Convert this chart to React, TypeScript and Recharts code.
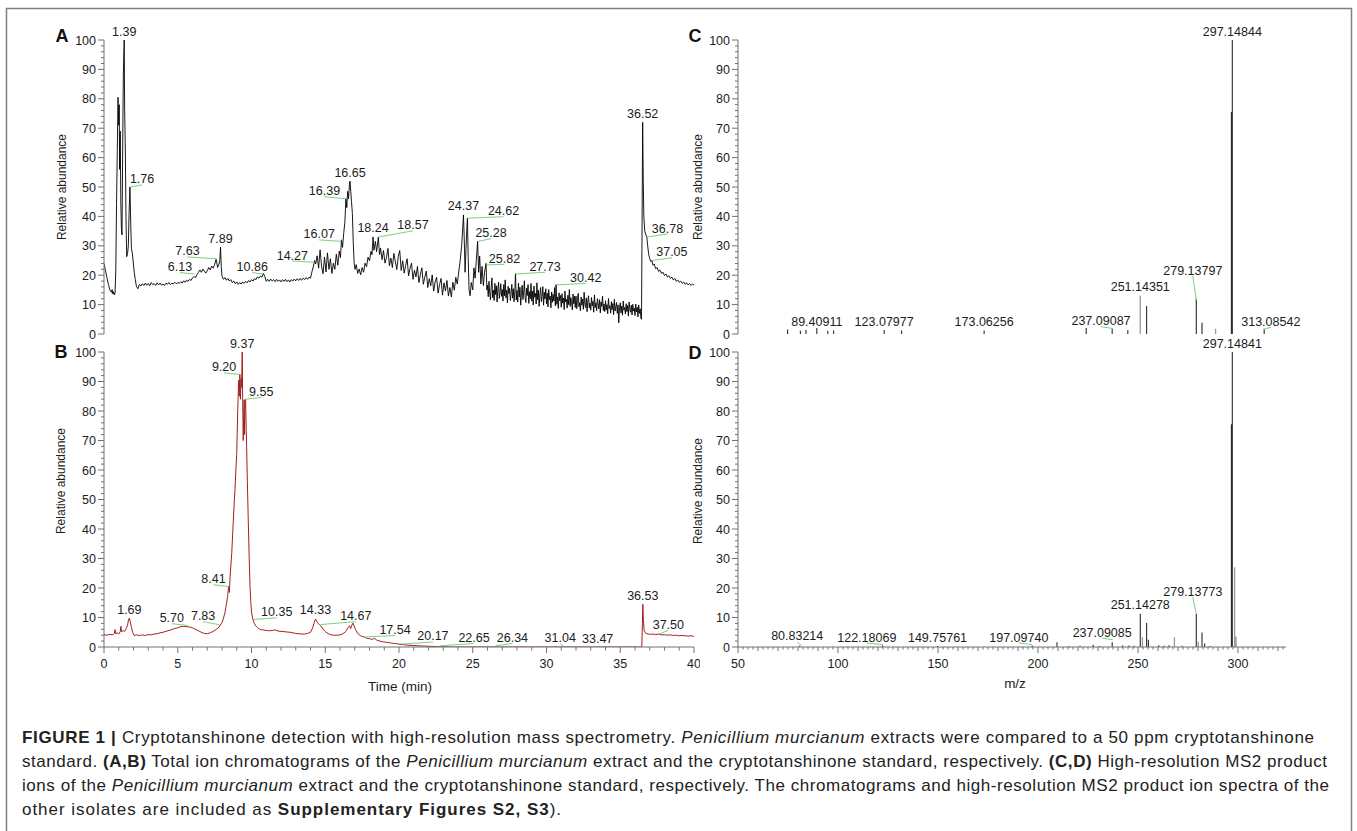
import React from "react";
import { LineChart, Line, XAxis, YAxis, ReferenceLine, ReferenceDot } from "recharts";

const FONT = "'Liberation Sans', Arial, Helvetica, sans-serif";
const INK = "#1c1c1c";
const AXIS_GREY = "#707070";
const LEADER = "#7ad37a";
const TRACE_EXTRACT = "#000000";
const TRACE_STANDARD = "#a3201f";
const STICK = "#2b2b2b";
const STICK_LIGHT = "#979797";

// ---- axis ticks ----
const abundanceTicks = [0, 10, 20, 30, 40, 50, 60, 70, 80, 90, 100];
const timeTicks = [0, 5, 10, 15, 20, 25, 30, 35, 40];
const mzTicks = [50, 100, 150, 200, 250, 300];

// ---- (A) total ion chromatogram, P. murcianum extract: [time (min), relative abundance] ----
const extractTic: [number, number][] = [
  [0, 24], [0.1, 21.5], [0.2, 19.2], [0.3, 16.8], [0.4, 15], [0.5, 14.2], [0.55, 15.1], [0.6, 13.6], [0.65, 14.4], [0.7, 13.3], [0.75, 14],
  [0.8, 22], [0.85, 44], [0.9, 62], [0.95, 80.5], [1.0, 71], [1.03, 78], [1.06, 56], [1.1, 69], [1.14, 45], [1.18, 36], [1.22, 33.7],
  [1.27, 65], [1.31, 88], [1.37, 100], [1.4, 76], [1.45, 61.5], [1.49, 40], [1.54, 26.3], [1.6, 27.5], [1.65, 30], [1.7, 41], [1.76, 50],
  [1.81, 38], [1.86, 29], [1.92, 27.5], [1.98, 24.5], [2.05, 21], [2.12, 18.5], [2.2, 16.2], [2.3, 15.4],
  [2.4, 16.9], [2.5, 16.3], [2.6, 17.1], [2.7, 16.5], [2.8, 17.3], [2.9, 16.6], [3.0, 17.2], [3.1, 16.4], [3.2, 17.5], [3.3, 16.8],
  [3.4, 17.1], [3.5, 16.5], [3.6, 17.4], [3.7, 16.7], [3.8, 17.3], [3.9, 16.6], [4.0, 17.0], [4.1, 16.5], [4.2, 17.3], [4.3, 16.9],
  [4.4, 17.5], [4.5, 16.8], [4.6, 17.3], [4.7, 17.0], [4.8, 17.6], [4.9, 17.1], [5.0, 17.5], [5.1, 17.2], [5.2, 17.8], [5.3, 17.3],
  [5.4, 18.1], [5.5, 17.6], [5.6, 18.3], [5.7, 17.9], [5.8, 18.6], [5.9, 18.2], [6.0, 19.1], [6.1, 19.6], [6.2, 19.1], [6.3, 20.2],
  [6.4, 20.9], [6.5, 21.8], [6.6, 21.0], [6.7, 22.1], [6.8, 21.4], [6.9, 20.7], [7.0, 21.5], [7.1, 22.6], [7.2, 21.8], [7.3, 23.1],
  [7.4, 22.4], [7.5, 23.6], [7.6, 25.4], [7.65, 24.2], [7.7, 22.6], [7.8, 23.8], [7.85, 25], [7.9, 29.5], [7.95, 23], [8.0, 19.6],
  [8.1, 18.6], [8.2, 19.2], [8.3, 18.3], [8.4, 18.9], [8.5, 18.0], [8.6, 18.5], [8.7, 17.5], [8.8, 18.0], [8.9, 17.1], [9.0, 17.7],
  [9.1, 16.9], [9.2, 17.5], [9.3, 17.0], [9.4, 17.7], [9.5, 17.2], [9.6, 17.9], [9.7, 17.4], [9.8, 18.2], [9.9, 17.7], [10.0, 18.5],
  [10.1, 18.0], [10.2, 18.8], [10.3, 18.5], [10.4, 19.4], [10.5, 19.0], [10.6, 19.7], [10.7, 19.3], [10.8, 20.6], [10.9, 19.6], [11.0, 17.9],
  [11.1, 18.6], [11.2, 17.9], [11.3, 18.7], [11.4, 18.0], [11.5, 18.5], [11.6, 17.8], [11.7, 18.6], [11.8, 17.9], [11.9, 18.4], [12.0, 17.7],
  [12.1, 18.5], [12.2, 17.9], [12.3, 18.6], [12.4, 17.8], [12.5, 18.4], [12.6, 17.7], [12.7, 18.5], [12.8, 18.0], [12.9, 18.7], [13.0, 18.1],
  [13.1, 18.8], [13.2, 18.2], [13.3, 18.9], [13.4, 18.3], [13.5, 19.0], [13.6, 18.5], [13.7, 19.2], [13.8, 18.6], [13.9, 19.3], [14.0, 19.0],
  [14.1, 21.2], [14.2, 23.1], [14.28, 25], [14.35, 23.8], [14.45, 26.6], [14.55, 22.4], [14.65, 28.6], [14.75, 23.1], [14.85, 20.5], [14.95, 26.2],
  [15.05, 21.1], [15.15, 27.6], [15.25, 22.0], [15.35, 25.6], [15.45, 20.6], [15.55, 24.1], [15.65, 22.0], [15.75, 27.1], [15.85, 23.4], [15.95, 28.2],
  [16.03, 26], [16.1, 32], [16.17, 29.5], [16.25, 34.2], [16.33, 38], [16.4, 46], [16.46, 43], [16.52, 48.5], [16.58, 46], [16.64, 51],
  [16.68, 52], [16.73, 48.5], [16.78, 45], [16.84, 41], [16.9, 31], [16.96, 24], [17.02, 22], [17.1, 23.6], [17.2, 20.6], [17.3, 22.1],
  [17.4, 20.1], [17.5, 22.6], [17.6, 21.0], [17.7, 24.1], [17.8, 22.9], [17.9, 26.1], [18.0, 24.9], [18.1, 28.1], [18.17, 27], [18.24, 33],
  [18.3, 28.5], [18.4, 31.5], [18.48, 28], [18.6, 33], [18.68, 27], [18.75, 29.2], [18.85, 25.3], [18.95, 28.4], [19.05, 24.1], [19.15, 26.0],
  [19.25, 29.1], [19.35, 23.2], [19.45, 25.8], [19.55, 22.6], [19.65, 27.4], [19.75, 24.7], [19.85, 21.9], [19.95, 26.3], [20.05, 28.4], [20.15, 21.6],
  [20.25, 24.9], [20.35, 20.7], [20.45, 23.3], [20.55, 25.6], [20.65, 19.8], [20.75, 22.4], [20.85, 24.1], [20.95, 18.6], [21.05, 21.7], [21.15, 19.4],
  [21.25, 23.0], [21.35, 17.5], [21.45, 20.2], [21.55, 22.5], [21.65, 16.9], [21.75, 19.3], [21.85, 21.4], [21.95, 15.8], [22.05, 18.8], [22.15, 16.4],
  [22.25, 20.1], [22.35, 14.6], [22.45, 17.7], [22.55, 19.3], [22.65, 13.9], [22.75, 16.8], [22.85, 18.9], [22.95, 13.2], [23.05, 17.4], [23.15, 14.6],
  [23.25, 18.2], [23.35, 12.9], [23.45, 15.8], [23.55, 12.6], [23.65, 17.6], [23.75, 14.9], [23.85, 19.3], [23.95, 17.0], [24.05, 21.1], [24.15, 25.1],
  [24.25, 30.2], [24.32, 36], [24.37, 40.5], [24.42, 33], [24.48, 21], [24.54, 29], [24.6, 36], [24.64, 39.4], [24.69, 26], [24.75, 15],
  [24.82, 13], [24.9, 17.5], [25.0, 15], [25.08, 22.5], [25.16, 19], [25.24, 25], [25.33, 31.5], [25.4, 21], [25.47, 26.5], [25.55, 17],
  [25.63, 23], [25.72, 16.5], [25.8, 21], [25.9, 24], [25.96, 15],
  [26.0, 16.6], [26.05, 12.7], [26.1, 17.9], [26.15, 13.9], [26.2, 11.6], [26.25, 15.7], [26.3, 19.1], [26.35, 12.3], [26.4, 14.9], [26.45, 11.4],
  [26.5, 17.2], [26.55, 13.4], [26.6, 16.4], [26.65, 10.9], [26.7, 15.3], [26.75, 17.6], [26.8, 12.1], [26.85, 14.2], [26.9, 17.1], [26.95, 12.8],
  [27.0, 15.1], [27.05, 11.2], [27.1, 16.8], [27.15, 13.0], [27.2, 18.4], [27.25, 12.3], [27.3, 14.9], [27.35, 10.6], [27.4, 16.2], [27.45, 13.7],
  [27.5, 15.5], [27.55, 11.4], [27.6, 13.8], [27.65, 16.9], [27.7, 12.2], [27.75, 15.4], [27.8, 11.0], [27.85, 14.6], [27.9, 20.5], [27.95, 11.6],
  [28.0, 14.8], [28.05, 10.9], [28.1, 17.3], [28.15, 12.6], [28.2, 15.9], [28.25, 9.8], [28.3, 13.9], [28.35, 16.6], [28.4, 11.7], [28.45, 14.2],
  [28.5, 18.1], [28.55, 12.4], [28.6, 10.7], [28.65, 15.6], [28.7, 13.1], [28.75, 16.8], [28.8, 10.4], [28.85, 14.4], [28.9, 12.0], [28.95, 17.2],
  [29.0, 11.2], [29.05, 14.6], [29.1, 9.9], [29.15, 16.3], [29.2, 12.5], [29.25, 13.8], [29.3, 10.2], [29.35, 17.4], [29.4, 11.6], [29.45, 14.9],
  [29.5, 9.4], [29.55, 13.3], [29.6, 15.8], [29.65, 11.0], [29.7, 12.7], [29.75, 16.1], [29.8, 9.8], [29.85, 14.2], [29.9, 11.9], [29.95, 15.4],
  [30.0, 10.3], [30.05, 13.9], [30.1, 9.2], [30.15, 15.1], [30.2, 11.7], [30.25, 12.9], [30.3, 8.9], [30.35, 14.3], [30.4, 10.8], [30.45, 13.5],
  [30.5, 11.2], [30.55, 15.8], [30.6, 9.6], [30.65, 16.8], [30.7, 10.1], [30.75, 12.6], [30.8, 8.7], [30.85, 14.0], [30.9, 11.3], [30.95, 13.1],
  [31.0, 9.1], [31.05, 13.7], [31.1, 10.5], [31.15, 12.2], [31.2, 8.3], [31.25, 14.6], [31.3, 10.9], [31.35, 11.8], [31.4, 8.8], [31.45, 13.2],
  [31.5, 10.0], [31.55, 15.1], [31.6, 9.4], [31.65, 12.4], [31.7, 11.0], [31.75, 8.2], [31.8, 13.6], [31.85, 10.3], [31.9, 12.8], [31.95, 9.0],
  [32.0, 12.9], [32.05, 8.6], [32.1, 11.4], [32.15, 13.8], [32.2, 9.3], [32.25, 10.7], [32.3, 7.9], [32.35, 12.6], [32.4, 9.8], [32.45, 11.9],
  [32.5, 8.4], [32.55, 14.2], [32.6, 10.1], [32.65, 9.0], [32.7, 12.3], [32.75, 7.6], [32.8, 11.2], [32.85, 13.0], [32.9, 8.9], [32.95, 10.5],
  [33.0, 8.1], [33.05, 12.4], [33.1, 9.6], [33.15, 11.1], [33.2, 7.4], [33.25, 13.3], [33.3, 9.0], [33.35, 10.6], [33.4, 7.9], [33.45, 12.0],
  [33.5, 10.3], [33.55, 8.5], [33.6, 11.7], [33.65, 7.2], [33.7, 10.9], [33.75, 9.4], [33.8, 12.8], [33.85, 8.0], [33.9, 10.2], [33.95, 7.6],
  [34.0, 11.3], [34.05, 8.2], [34.1, 10.0], [34.15, 6.9], [34.2, 12.1], [34.25, 8.7], [34.3, 9.6], [34.35, 7.1], [34.4, 11.0], [34.45, 8.3],
  [34.5, 10.4], [34.55, 6.6], [34.6, 11.8], [34.65, 7.8], [34.7, 9.3], [34.75, 10.7], [34.8, 7.0], [34.85, 9.9], [34.9, 3.8], [34.95, 8.9],
  [35.0, 10.6], [35.05, 7.2], [35.1, 9.5], [35.15, 6.4], [35.2, 11.2], [35.25, 8.1], [35.3, 9.0], [35.35, 6.8], [35.4, 10.3], [35.45, 7.6],
  [35.5, 9.7], [35.55, 6.1], [35.6, 10.9], [35.65, 8.3], [35.7, 7.4], [35.75, 9.8], [35.8, 6.5], [35.85, 10.1], [35.9, 7.8], [35.95, 8.8],
  [36.0, 6.3], [36.05, 10.2], [36.1, 7.5], [36.15, 9.1], [36.2, 5.8], [36.25, 9.9], [36.3, 7.0], [36.35, 8.6], [36.4, 5.4],
  [36.44, 5.0], [36.48, 38], [36.52, 72], [36.56, 52], [36.6, 40], [36.66, 35], [36.72, 34], [36.8, 33], [36.86, 30],
  [36.93, 27], [37.0, 25.6], [37.08, 24.6], [37.15, 25], [37.22, 23.4], [37.3, 23.8], [37.4, 22.2], [37.5, 22.6], [37.6, 21.3], [37.7, 21.7],
  [37.8, 20.6], [37.9, 21.0], [38.0, 19.9], [38.1, 20.4], [38.2, 19.4], [38.3, 19.8], [38.4, 18.9], [38.5, 19.3], [38.6, 18.4], [38.7, 18.9],
  [38.8, 17.9], [38.9, 18.4], [39.0, 17.6], [39.1, 18.0], [39.2, 17.2], [39.3, 17.7], [39.4, 16.9], [39.5, 17.4], [39.6, 16.7], [39.7, 17.2],
  [39.8, 16.5], [39.9, 17.0], [40.0, 16.6],
];

// ---- (B) total ion chromatogram, cryptotanshinone standard ----
const standardTic: [number, number][] = [
  [0, 4.2], [0.2, 4.0], [0.4, 4.3], [0.6, 4.1], [0.7, 4.6], [0.75, 5.9], [0.8, 4.5], [0.9, 4.8], [1.0, 4.4], [1.1, 5.2], [1.15, 7],
  [1.2, 5.1], [1.3, 5.6], [1.4, 5.3], [1.5, 6.2], [1.6, 7.4], [1.66, 9.2], [1.72, 9.8], [1.78, 8.6], [1.86, 6.6], [1.95, 4.9], [2.05, 3.9],
  [2.2, 4.1], [2.4, 3.9], [2.6, 4.1], [2.8, 3.9], [3.0, 4.2], [3.2, 4.1], [3.4, 4.4], [3.6, 4.5], [3.8, 4.8], [4.0, 5.0], [4.2, 5.3],
  [4.4, 5.6], [4.6, 5.9], [4.8, 6.3], [5.0, 6.5], [5.2, 6.9], [5.4, 7.0], [5.6, 6.9], [5.8, 6.8], [6.0, 6.5], [6.2, 6.0], [6.4, 5.5],
  [6.6, 5.0], [6.8, 4.6], [7.0, 4.5], [7.2, 4.8], [7.4, 5.3], [7.6, 5.9], [7.8, 6.8], [8.0, 8.3], [8.1, 9.8], [8.2, 11.6], [8.3, 14.5],
  [8.38, 17.1], [8.45, 20.5], [8.5, 18.5], [8.55, 24], [8.6, 27.5], [8.66, 31.8], [8.72, 38], [8.77, 43], [8.83, 49], [8.88, 53.2],
  [8.94, 60], [9.0, 65.6], [9.06, 79], [9.13, 90.4], [9.17, 85], [9.21, 92.4], [9.25, 84], [9.29, 91], [9.33, 88], [9.37, 100],
  [9.41, 80], [9.44, 70], [9.47, 78], [9.5, 83.7], [9.53, 72], [9.56, 84], [9.6, 83.7], [9.64, 74], [9.67, 67.9], [9.72, 56],
  [9.78, 43], [9.84, 31], [9.9, 20.5], [9.95, 15.5], [10.01, 11.5], [10.1, 9.3], [10.2, 7.9], [10.3, 7.1], [10.4, 6.6], [10.5, 6.2],
  [10.6, 5.9], [10.8, 5.8], [11.0, 5.6], [11.2, 5.5], [11.4, 5.6], [11.6, 5.8], [11.8, 5.4], [12.0, 5.3], [12.2, 5.2], [12.4, 5.1],
  [12.6, 5.0], [12.8, 4.8], [13.0, 4.6], [13.2, 4.5], [13.4, 4.4], [13.6, 4.4], [13.8, 4.6], [14.0, 5.0], [14.15, 6.5], [14.25, 8.3],
  [14.34, 9.5], [14.42, 8.7], [14.5, 8.1], [14.6, 7.6], [14.68, 7.3], [14.8, 6.4], [14.9, 5.7], [15.0, 5.2], [15.2, 4.5], [15.4, 4.1],
  [15.6, 4.0], [15.8, 4.0], [16.0, 4.1], [16.2, 4.5], [16.4, 5.3], [16.55, 6.6], [16.65, 7.2], [16.72, 6.2], [16.8, 7.4], [16.88, 8.1],
  [16.95, 7.2], [17.05, 5.9], [17.2, 4.6], [17.4, 3.8], [17.6, 3.4], [17.8, 3.0], [18.0, 2.8], [18.2, 2.6], [18.35, 2.9], [18.5, 2.3],
  [18.7, 2.0], [18.9, 1.8], [19.1, 1.6], [19.3, 1.5], [19.5, 1.3], [19.7, 1.2], [20.0, 1.0], [20.3, 0.8], [20.6, 0.6], [21.0, 0.5],
  [21.5, 0.35], [22.0, 0.25], [22.5, 0.12], [23.0, 0.05], [23.5, 0], [36.46, 0], [36.5, 8], [36.53, 14.5], [36.57, 9], [36.62, 5.6],
  [36.7, 4.8], [36.8, 4.5], [37.0, 4.3], [37.2, 4.4], [37.4, 4.2], [37.6, 4.4], [37.8, 4.1], [38.0, 4.2], [38.2, 4.0], [38.4, 4.1],
  [38.6, 3.9], [38.8, 4.0], [39.0, 3.8], [39.2, 3.9], [39.4, 3.8], [39.6, 3.7], [39.8, 3.8], [40.0, 3.6],
];

// ---- (C) MS2 product ions, extract: [m/z, relative abundance] ----
const extractMs2: [number, number][] = [
  [74.8, 1.5], [81.2, 1.1], [84, 1.4], [89.41, 2], [94.9, 1.1], [97.8, 1.2], [123.08, 1.4], [131.8, 1.2], [173.06, 1.2],
  [224.1, 2], [237.09, 1.9], [244.9, 1.3], [254.3, 9.5], [279.14, 12], [282, 3.8], [296.7, 75.5], [297.15, 100], [313.09, 1.8],
];
const extractMs2Faint: [number, number][] = [[251.14, 13], [288.8, 1.8]];

// ---- (D) MS2 product ions, standard ----
const standardMs2: [number, number][] = [
  [80.83, 0.4], [122.18, 0.5], [149.76, 0.3], [197.1, 0.5], [209.5, 1.6], [215.5, 0.3], [221, 0.4], [227.6, 0.8], [231, 0.3],
  [237.09, 1.6], [242.3, 0.5], [245.5, 0.5], [248, 0.4], [251.14, 11.3], [254.3, 8.1], [255.2, 2.5], [260.4, 0.6], [263, 0.4],
  [265.5, 0.6], [272, 0.4], [279.14, 11.2], [282, 4.9], [283.3, 1.2], [286, 0.3], [296.7, 75.5], [297.15, 100],
];
const standardMs2Faint: [number, number][] = [[252.2, 3.3], [268.2, 3.3], [280.1, 1.8], [298.3, 27], [299, 3.5]];

// ---- peak annotations: [label, peak x, peak y, label x, label y] ----
type Note = [string, number, number, number, number];
const extractTicNotes: Note[] = [
  ["1.39", 1.37, 100, 1.37, 100], ["1.76", 1.76, 50, 2.58, 50.7], ["6.13", 6.12, 20.4, 5.15, 20.9],
  ["7.63", 7.63, 25.6, 5.66, 26.2], ["7.89", 7.9, 29.5, 7.9, 29.5], ["10.86", 10.8, 20.4, 10.05, 20.9],
  ["14.27", 14.28, 24.4, 12.77, 24.8], ["16.07", 16.1, 31.5, 14.59, 32], ["16.39", 16.4, 46, 14.95, 46.7],
  ["16.65", 16.68, 52, 16.68, 52], ["18.24", 18.24, 33, 18.24, 33], ["18.57", 18.6, 33, 20.95, 35.1],
  ["24.37", 24.37, 40.5, 24.37, 40.5], ["24.62", 24.66, 39.4, 27.09, 39.9], ["25.28", 25.34, 31.5, 26.24, 32.4],
  ["25.82", 25.92, 23.5, 27.15, 23.7], ["27.73", 27.9, 20.4, 29.9, 21], ["30.42", 30.65, 16.7, 32.66, 17.2],
  ["36.52", 36.52, 72, 36.52, 72], ["36.78", 36.8, 33, 38.2, 34], ["37.05", 37.15, 25, 38.5, 25.9],
];
const standardTicNotes: Note[] = [
  ["1.69", 1.72, 9.8, 1.72, 9.8], ["5.70", 5.66, 7.3, 4.6, 7.9], ["7.83", 7.78, 7.6, 6.72, 8.6],
  ["8.41", 8.45, 20.5, 7.42, 21.1], ["9.20", 9.2, 92.4, 8.14, 92.9], ["9.37", 9.37, 100, 9.37, 100],
  ["9.55", 9.59, 84, 10.66, 84.6], ["10.35", 10.1, 9.3, 11.71, 9.9], ["14.33", 14.34, 9.5, 14.34, 9.5],
  ["14.67", 14.68, 7.6, 17.07, 8.6], ["17.54", 17.62, 3.4, 19.73, 3.9], ["20.17", 20.19, 1, 22.3, 1.7],
  ["22.65", 22.76, 0.4, 25.09, 1.2], ["26.34", 26.54, 0.4, 27.69, 1.2], ["31.04", 31.15, 0.3, 30.93, 1.1],
  ["33.47", 33.47, 0, 33.47, 0], ["36.53", 36.53, 14.5, 36.53, 14.5], ["37.50", 37.68, 4.5, 38.26, 5.6],
];
const extractMs2Notes: Note[] = [
  ["297.14844", 297.15, 100, 297.15, 100], ["279.13797", 279.14, 11.5, 277.4, 19.7], ["251.14351", 251.14, 13, 251.14, 13],
  ["237.09087", 237.09, 1.9, 231.5, 2.5], ["313.08542", 313.09, 1.6, 316.4, 2.3], ["89.40911", 89.41, 1.2, 89.41, 1.2],
  ["123.07977", 123.08, 1.2, 123.08, 1.2], ["173.06256", 173.06, 1.2, 173.06, 1.2],
];
const standardMs2Notes: Note[] = [
  ["297.14841", 297.15, 100, 297.15, 100], ["279.13773", 279.14, 11.2, 277.4, 16.9], ["251.14278", 251.14, 11.3, 251.14, 11.3],
  ["237.09085", 237.3, 2.5, 232.1, 3], ["197.09740", 196.9, 0.8, 190.4, 1.35], ["149.75761", 149.76, 0.3, 149.76, 0.3],
  ["122.18069", 122.7, 0.8, 114.4, 1.35], ["80.83214", 81.7, 0.55, 79.6, 1.7],
];

const captionLines: { parts: [string, string][]; width: number }[] = [
  {
    width: 1292,
    parts: [
      ["b", "FIGURE 1 | "],
      ["n", "Cryptotanshinone detection with high-resolution mass spectrometry. "],
      ["i", "Penicillium murcianum"],
      ["n", " extracts were compared to a 50 ppm cryptotanshinone"],
    ],
  },
  {
    width: 1305,
    parts: [
      ["n", "standard. "],
      ["b", "(A,B)"],
      ["n", " Total ion chromatograms of the "],
      ["i", "Penicillium murcianum"],
      ["n", " extract and the cryptotanshinone standard, respectively. "],
      ["b", "(C,D)"],
      ["n", " High-resolution MS2 product"],
    ],
  },
  {
    width: 1307,
    parts: [
      ["n", "ions of the "],
      ["i", "Penicillium murcianum"],
      ["n", " extract and the cryptotanshinone standard, respectively. The chromatograms and high-resolution MS2 product ion spectra of the"],
    ],
  },
  {
    width: 539,
    parts: [
      ["n", "other isolates are included as "],
      ["b", "Supplementary Figures S2, S3"],
      ["n", ")."],
    ],
  },
];

// ---- helpers ----
const abundanceMinor = abundanceTicks.flatMap((v) => (v < 100 ? [v, v + 2, v + 4, v + 6, v + 8] : [v]));
const timeMinor = timeTicks.flatMap((v) => (v < 40 ? [v, v + 1, v + 2, v + 3, v + 4] : [v]));
const mzMinor = mzTicks.flatMap((v) => Array.from({ length: 20 }, (_, k) => v + k * 2.5)).filter((v) => v <= 322.5);

const traceRows = (trace: [number, number][]) => trace.map(([t, v]) => ({ t, v }));
const stickRows = (peaks: [number, number][]) =>
  peaks.flatMap(([m, v]) => [{ m, v: 0 }, { m, v }, { m, v: null as number | null }]);

function AbundanceTick({ x, y, payload }: any) {
  const v = payload.value;
  const major = v % 10 === 0;
  return (
    <g>
      <line x1={x} x2={x - (major ? 6 : 3)} y1={y} y2={y} stroke={AXIS_GREY} strokeWidth={1} />
      {major && (
        <text x={x - 8} y={y} dy="0.36em" textAnchor="end" fontSize={12.5} fontFamily={FONT} fill={INK}>
          {v}
        </text>
      )}
    </g>
  );
}

function TimeTick({ x, y, payload }: any) {
  const v = payload.value;
  const major = v % 5 === 0;
  return (
    <g>
      <line x1={x} x2={x} y1={y} y2={y + (major ? 6 : 3.5)} stroke={AXIS_GREY} strokeWidth={1} />
      {major && (
        <text x={x} y={y + 21} textAnchor="middle" fontSize={12.5} fontFamily={FONT} fill={INK}>
          {v}
        </text>
      )}
    </g>
  );
}

function MzTick({ x, y, payload }: any) {
  const v = payload.value;
  const major = v % 50 === 0;
  const mid = v % 10 === 0;
  return (
    <g>
      <line x1={x} x2={x} y1={y} y2={y + (major ? 6 : mid ? 4 : 2.5)} stroke={AXIS_GREY} strokeWidth={1} />
      {major && (
        <text x={x} y={y + 21} textAnchor="middle" fontSize={12.5} fontFamily={FONT} fill={INK}>
          {v}
        </text>
      )}
    </g>
  );
}

function renderNotes(notes: Note[], prefix: string) {
  return notes.flatMap(([label, px, py, tx, ty], i) => {
    const leader = px !== tx || py !== ty;
    const items = [];
    if (leader) {
      items.push(
        <ReferenceLine
          key={`${prefix}-l${i}`}
          segment={[{ x: px, y: py }, { x: tx, y: ty }]}
          stroke={LEADER}
          strokeWidth={1}
          ifOverflow="visible"
        />
      );
    }
    items.push(
      <ReferenceDot
        key={`${prefix}-d${i}`}
        x={tx}
        y={ty}
        r={0}
        ifOverflow="visible"
        shape={(p: any) => (
          <text
            x={p.cx}
            y={p.cy - (leader ? 1.5 : 4.5)}
            textAnchor="middle"
            fontSize={12.5}
            fontFamily={FONT}
            fill={INK}
          >
            {label}
          </text>
        )}
      />
    );
    return items;
  });
}

const yAxisProps = {
  type: "number" as const,
  domain: [0, 100],
  ticks: abundanceMinor,
  interval: 0 as const,
  tick: AbundanceTick,
  tickLine: false,
  tickSize: 0,
  tickMargin: 0,
  stroke: AXIS_GREY,
  allowDataOverflow: true,
};

// upper panels: plot 40..334 px; lower panels: plot 352..647 px
const upperFrame = { top: 0, height: 340, margin: { top: 40, bottom: 6 }, axisHeight: 0 };
const lowerFrame = { top: 320, height: 360, margin: { top: 32, bottom: 3 }, axisHeight: 30 };

function ChromatogramPanel({
  lower,
  trace,
  notes,
  color,
  id,
}: {
  lower: boolean;
  trace: [number, number][];
  notes: Note[];
  color: string;
  id: string;
}) {
  const f = lower ? lowerFrame : upperFrame;
  return (
    <div style={{ position: "absolute", left: 0, top: f.top, width: 700, height: f.height }}>
      <LineChart
        width={700}
        height={f.height}
        data={traceRows(trace)}
        margin={{ top: f.margin.top, right: 6, bottom: f.margin.bottom, left: 0 }}
      >
        <XAxis
          type="number"
          dataKey="t"
          domain={[0, 40]}
          allowDataOverflow
          height={f.axisHeight}
          stroke={AXIS_GREY}
          ticks={lower ? timeMinor : undefined}
          interval={0}
          tick={lower ? TimeTick : false}
          tickLine={false}
          tickSize={0}
          tickMargin={0}
        />
        <YAxis {...yAxisProps} width={104} />
        <Line
          type="linear"
          dataKey="v"
          stroke={color}
          strokeWidth={lower ? 1 : 0.9}
          dot={false}
          activeDot={false}
          isAnimationActive={false}
        />
        {renderNotes(notes, id)}
      </LineChart>
    </div>
  );
}

function SpectrumPanel({
  lower,
  peaks,
  faint,
  notes,
  id,
}: {
  lower: boolean;
  peaks: [number, number][];
  faint: [number, number][];
  notes: Note[];
  id: string;
}) {
  const f = lower ? lowerFrame : upperFrame;
  return (
    <div style={{ position: "absolute", left: 680, top: f.top, width: 670, height: f.height }}>
      <LineChart
        width={670}
        height={f.height}
        margin={{ top: f.margin.top, right: 64, bottom: f.margin.bottom, left: 0 }}
      >
        <XAxis
          type="number"
          dataKey="m"
          domain={[50, 324]}
          allowDataOverflow
          height={f.axisHeight}
          stroke={AXIS_GREY}
          ticks={lower ? mzMinor : undefined}
          interval={0}
          tick={lower ? MzTick : false}
          tickLine={false}
          tickSize={0}
          tickMargin={0}
        />
        <YAxis {...yAxisProps} width={58} />
        <Line
          data={stickRows(faint)}
          type="linear"
          dataKey="v"
          stroke={STICK_LIGHT}
          strokeWidth={1.3}
          dot={false}
          activeDot={false}
          connectNulls={false}
          isAnimationActive={false}
        />
        <Line
          data={stickRows(peaks)}
          type="linear"
          dataKey="v"
          stroke={STICK}
          strokeWidth={1.1}
          dot={false}
          activeDot={false}
          connectNulls={false}
          isAnimationActive={false}
        />
        {renderNotes(notes, id)}
      </LineChart>
    </div>
  );
}

export default function App() {
  return (
    <div
      style={{
        position: "absolute",
        left: 0,
        top: 0,
        width: 1357,
        height: 831,
        background: "#ffffff",
        overflow: "hidden",
        fontFamily: FONT,
      }}
    >
      <svg width={1357} height={831} style={{ position: "absolute", left: 0, top: 0 }}>
        <rect x={6.5} y={8.5} width={1345} height={900} fill="none" stroke="#808080" strokeWidth={1.5} />
        <g fontFamily={FONT} fontWeight="bold" fontSize={18} fill="#111">
          <text x={62} y={41.5} textAnchor="middle">A</text>
          <text x={61} y={358} textAnchor="middle">B</text>
          <text x={695} y={41.5} textAnchor="middle">C</text>
          <text x={695} y={359} textAnchor="middle">D</text>
        </g>
        <g fontFamily={FONT} fontSize={12} fill={INK} textAnchor="middle">
          <text x={62} y={187} dy="0.35em" transform="rotate(-90 62 187)">Relative abundance</text>
          <text x={61} y={481} dy="0.35em" transform="rotate(-90 61 481)">Relative abundance</text>
          <text x={698} y={187} dy="0.35em" transform="rotate(-90 698 187)">Relative abundance</text>
          <text x={698} y={491} dy="0.35em" transform="rotate(-90 698 491)">Relative abundance</text>
        </g>
        <g fontFamily={FONT} fontSize={13.5} fill={INK} textAnchor="middle">
          <text x={400} y={691}>Time (min)</text>
          <text x={1015} y={688}>m/z</text>
        </g>
        <g fontFamily={FONT} fontSize={17} fill="#222">
          {captionLines.map((line, i) => (
            <text key={i} x={22} y={743 + i * 24} textLength={line.width} lengthAdjust="spacing">
              {line.parts.map(([style, str], j) => (
                <tspan
                  key={j}
                  fontWeight={style === "b" ? "bold" : "normal"}
                  fontStyle={style === "i" ? "italic" : "normal"}
                >
                  {str}
                </tspan>
              ))}
            </text>
          ))}
        </g>
      </svg>
      <ChromatogramPanel lower={false} trace={extractTic} notes={extractTicNotes} color={TRACE_EXTRACT} id="a" />
      <ChromatogramPanel lower trace={standardTic} notes={standardTicNotes} color={TRACE_STANDARD} id="b" />
      <SpectrumPanel lower={false} peaks={extractMs2} faint={extractMs2Faint} notes={extractMs2Notes} id="c" />
      <SpectrumPanel lower peaks={standardMs2} faint={standardMs2Faint} notes={standardMs2Notes} id="d" />
    </div>
  );
}
